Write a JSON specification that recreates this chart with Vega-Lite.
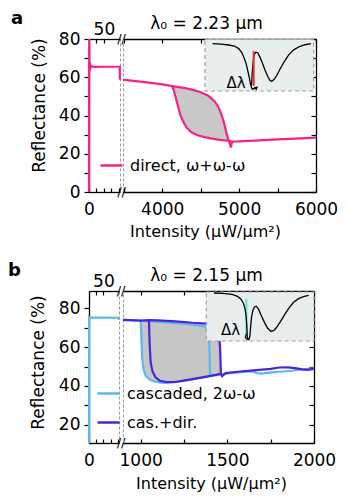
{
"$schema": "https://vega.github.io/schema/vega-lite/v6.json",
"padding": {"left": 7, "top": 9, "right": 0, "bottom": 0},
"spacing": 21,
"config": {
  "font": "DejaVu Sans",
  "view": {"stroke": "#9a9a9a", "strokeDash": [3, 2], "strokeWidth": 1},
  "axis": {"grid": false, "domainColor": "black", "domainWidth": 1.3, "tickColor": "black", "tickWidth": 1.2, "labelColor": "black", "titleColor": "black", "labelFontSize": 17, "titleFontSize": 17, "titleFontWeight": "normal", "labelFlush": false, "labelOverlap": false, "labelFont": "DejaVu Sans", "titleFont": "DejaVu Sans"},
  "legend": {"labelFontSize": 16, "labelFont": "DejaVu Sans", "labelColor": "black", "symbolType": "stroke", "symbolStrokeWidth": 2.5, "symbolSize": 484, "labelOffset": 6, "padding": 0, "rowPadding": 9},
  "title": {"font": "DejaVu Sans", "color": "black"}
},
"datasets": {
  "aLeft": [
    {"i":0,"x":0,"y":0},{"i":1,"x":0.6,"y":80},{"i":2,"x":1.5,"y":62.5},{"i":3,"x":3,"y":67.5},{"i":4,"x":5,"y":64.8},{"i":5,"x":8,"y":65.9},{"i":6,"x":15,"y":65.4},{"i":7,"x":60,"y":65.5},{"i":8,"x":103,"y":65.5},{"i":9,"x":103.6,"y":58.7}
  ],
  "aMain": [
    {"s":"direct, ω+ω-ω","b":"up","i":0,"x":3490,"y":58.7},{"s":"direct, ω+ω-ω","b":"up","i":1,"x":3600,"y":58.2},{"s":"direct, ω+ω-ω","b":"up","i":2,"x":3800,"y":57.3},{"s":"direct, ω+ω-ω","b":"up","i":3,"x":4000,"y":56.3},{"s":"direct, ω+ω-ω","b":"up","i":4,"x":4130,"y":55.4},{"s":"direct, ω+ω-ω","b":"up","i":5,"x":4300,"y":54.3},{"s":"direct, ω+ω-ω","b":"up","i":6,"x":4400,"y":53.4},{"s":"direct, ω+ω-ω","b":"up","i":7,"x":4500,"y":52.2},{"s":"direct, ω+ω-ω","b":"up","i":8,"x":4600,"y":50.3},{"s":"direct, ω+ω-ω","b":"up","i":9,"x":4680,"y":47.5},{"s":"direct, ω+ω-ω","b":"up","i":10,"x":4730,"y":44.5},{"s":"direct, ω+ω-ω","b":"up","i":11,"x":4770,"y":40.5},{"s":"direct, ω+ω-ω","b":"up","i":12,"x":4805,"y":36},{"s":"direct, ω+ω-ω","b":"up","i":13,"x":4835,"y":31},{"s":"direct, ω+ω-ω","b":"up","i":14,"x":4855,"y":28},{"s":"direct, ω+ω-ω","b":"up","i":15,"x":4870,"y":26.3},{"s":"direct, ω+ω-ω","b":"up","i":16,"x":4885,"y":24.5},{"s":"direct, ω+ω-ω","b":"up","i":17,"x":4893,"y":23.3},{"s":"direct, ω+ω-ω","b":"up","i":18,"x":4900,"y":24.8},{"s":"direct, ω+ω-ω","b":"up","i":19,"x":4910,"y":26.3},{"s":"direct, ω+ω-ω","b":"up","i":20,"x":4950,"y":26.4},{"s":"direct, ω+ω-ω","b":"up","i":21,"x":5000,"y":26.5},{"s":"direct, ω+ω-ω","b":"up","i":22,"x":5200,"y":26.9},{"s":"direct, ω+ω-ω","b":"up","i":23,"x":5500,"y":27.5},{"s":"direct, ω+ω-ω","b":"up","i":24,"x":5800,"y":28},{"s":"direct, ω+ω-ω","b":"up","i":25,"x":6000,"y":28.4},
    {"s":"direct, ω+ω-ω","b":"low","i":0,"x":4130,"y":55.4},{"s":"direct, ω+ω-ω","b":"low","i":1,"x":4150,"y":53.2},{"s":"direct, ω+ω-ω","b":"low","i":2,"x":4175,"y":49.5},{"s":"direct, ω+ω-ω","b":"low","i":3,"x":4205,"y":45},{"s":"direct, ω+ω-ω","b":"low","i":4,"x":4235,"y":40.5},{"s":"direct, ω+ω-ω","b":"low","i":5,"x":4270,"y":37},{"s":"direct, ω+ω-ω","b":"low","i":6,"x":4320,"y":33.5},{"s":"direct, ω+ω-ω","b":"low","i":7,"x":4380,"y":31.2},{"s":"direct, ω+ω-ω","b":"low","i":8,"x":4450,"y":29.8},{"s":"direct, ω+ω-ω","b":"low","i":9,"x":4550,"y":28.7},{"s":"direct, ω+ω-ω","b":"low","i":10,"x":4650,"y":27.9},{"s":"direct, ω+ω-ω","b":"low","i":11,"x":4750,"y":27.3},{"s":"direct, ω+ω-ω","b":"low","i":12,"x":4850,"y":26.8},{"s":"direct, ω+ω-ω","b":"low","i":13,"x":4900,"y":26.6}
  ],
  "aFill": [
    {"x":4130,"up":55.4,"low":55.4},{"x":4150,"up":55.2,"low":53.2},{"x":4175,"up":55.0,"low":49.5},{"x":4205,"up":54.8,"low":45},{"x":4235,"up":54.6,"low":40.5},{"x":4270,"up":54.4,"low":37},{"x":4320,"up":54.1,"low":33.5},{"x":4380,"up":53.6,"low":31.2},{"x":4450,"up":52.9,"low":29.8},{"x":4550,"up":51.4,"low":28.7},{"x":4600,"up":50.3,"low":28.4},{"x":4650,"up":48.8,"low":28.0},{"x":4680,"up":47.5,"low":27.8},{"x":4730,"up":44.5,"low":27.5},{"x":4770,"up":40.5,"low":27.2},{"x":4805,"up":36,"low":27.0},{"x":4835,"up":31,"low":26.9},{"x":4855,"up":28,"low":26.8},{"x":4865,"up":26.8,"low":26.8}
  ],
  "insetA": [
    {"u":0.07,"v":0.916},{"u":0.15,"v":0.905},{"u":0.22,"v":0.89},{"u":0.27,"v":0.87},{"u":0.31,"v":0.82},{"u":0.34,"v":0.74},{"u":0.36,"v":0.64},{"u":0.38,"v":0.52},{"u":0.395,"v":0.38},{"u":0.41,"v":0.24},{"u":0.418,"v":0.14},{"u":0.424,"v":0.1},{"u":0.43,"v":0.15},{"u":0.435,"v":0.35},{"u":0.442,"v":0.55},{"u":0.452,"v":0.7},{"u":0.468,"v":0.75},{"u":0.485,"v":0.74},{"u":0.505,"v":0.66},{"u":0.53,"v":0.53},{"u":0.555,"v":0.39},{"u":0.58,"v":0.27},{"u":0.6,"v":0.2},{"u":0.615,"v":0.19},{"u":0.635,"v":0.22},{"u":0.66,"v":0.3},{"u":0.69,"v":0.42},{"u":0.73,"v":0.57},{"u":0.77,"v":0.7},{"u":0.82,"v":0.8},{"u":0.87,"v":0.86},{"u":0.92,"v":0.895},{"u":0.975,"v":0.916}
  ],
  "bLeft": [
    {"i":0,"x":0,"y":10.5},{"i":1,"x":0.6,"y":75.6},{"i":2,"x":3,"y":75.3},{"i":3,"x":50,"y":75.3},{"i":4,"x":103,"y":75.2},{"i":5,"x":103.6,"y":74.1}
  ],
  "bMain": [
    {"s":"cascaded, 2ω-ω","b":"cu","i":0,"x":898,"y":74.1},{"s":"cascaded, 2ω-ω","b":"cu","i":1,"x":1000,"y":73.7},{"s":"cascaded, 2ω-ω","b":"cu","i":2,"x":1100,"y":73.0},{"s":"cascaded, 2ω-ω","b":"cu","i":3,"x":1200,"y":72.4},{"s":"cascaded, 2ω-ω","b":"cu","i":4,"x":1300,"y":71.6},{"s":"cascaded, 2ω-ω","b":"cu","i":5,"x":1360,"y":70.9},{"s":"cascaded, 2ω-ω","b":"cu","i":6,"x":1380,"y":70.2},{"s":"cascaded, 2ω-ω","b":"cu","i":7,"x":1390,"y":68.8},{"s":"cascaded, 2ω-ω","b":"cu","i":8,"x":1395,"y":64},{"s":"cascaded, 2ω-ω","b":"cu","i":9,"x":1398,"y":55},{"s":"cascaded, 2ω-ω","b":"cu","i":10,"x":1400,"y":46},
    {"s":"cascaded, 2ω-ω","b":"cl","i":0,"x":1000,"y":73.7},{"s":"cascaded, 2ω-ω","b":"cl","i":1,"x":1002,"y":70},{"s":"cascaded, 2ω-ω","b":"cl","i":2,"x":1005,"y":62},{"s":"cascaded, 2ω-ω","b":"cl","i":3,"x":1009,"y":54},{"s":"cascaded, 2ω-ω","b":"cl","i":4,"x":1016,"y":48.5},{"s":"cascaded, 2ω-ω","b":"cl","i":5,"x":1030,"y":45},{"s":"cascaded, 2ω-ω","b":"cl","i":6,"x":1055,"y":43},{"s":"cascaded, 2ω-ω","b":"cl","i":7,"x":1090,"y":42},{"s":"cascaded, 2ω-ω","b":"cl","i":8,"x":1130,"y":41.6},{"s":"cascaded, 2ω-ω","b":"cl","i":9,"x":1180,"y":41.8},{"s":"cascaded, 2ω-ω","b":"cl","i":10,"x":1250,"y":42.6},{"s":"cascaded, 2ω-ω","b":"cl","i":11,"x":1330,"y":43.8},{"s":"cascaded, 2ω-ω","b":"cl","i":12,"x":1400,"y":45},{"s":"cascaded, 2ω-ω","b":"cl","i":13,"x":1480,"y":46.2},{"s":"cascaded, 2ω-ω","b":"cl","i":14,"x":1560,"y":47},{"s":"cascaded, 2ω-ω","b":"cl","i":15,"x":1620,"y":47.5},{"s":"cascaded, 2ω-ω","b":"cl","i":16,"x":1650,"y":47.4},{"s":"cascaded, 2ω-ω","b":"cl","i":17,"x":1670,"y":46.6},{"s":"cascaded, 2ω-ω","b":"cl","i":18,"x":1700,"y":46.3},{"s":"cascaded, 2ω-ω","b":"cl","i":19,"x":1740,"y":46.8},{"s":"cascaded, 2ω-ω","b":"cl","i":20,"x":1800,"y":47.3},{"s":"cascaded, 2ω-ω","b":"cl","i":21,"x":1870,"y":47.8},{"s":"cascaded, 2ω-ω","b":"cl","i":22,"x":1930,"y":48.5},{"s":"cascaded, 2ω-ω","b":"cl","i":23,"x":2000,"y":49.1},
    {"s":"cas.+dir.","b":"pu","i":0,"x":898,"y":74.1},{"s":"cas.+dir.","b":"pu","i":1,"x":1000,"y":73.7},{"s":"cas.+dir.","b":"pu","i":2,"x":1050,"y":74.0},{"s":"cas.+dir.","b":"pu","i":3,"x":1100,"y":73.8},{"s":"cas.+dir.","b":"pu","i":4,"x":1200,"y":73.3},{"s":"cas.+dir.","b":"pu","i":5,"x":1300,"y":72.6},{"s":"cas.+dir.","b":"pu","i":6,"x":1380,"y":72.2},{"s":"cas.+dir.","b":"pu","i":7,"x":1420,"y":71.0},{"s":"cas.+dir.","b":"pu","i":8,"x":1440,"y":69.6},{"s":"cas.+dir.","b":"pu","i":9,"x":1452,"y":66.5},{"s":"cas.+dir.","b":"pu","i":10,"x":1458,"y":60},{"s":"cas.+dir.","b":"pu","i":11,"x":1461,"y":52},{"s":"cas.+dir.","b":"pu","i":12,"x":1463,"y":46.3},
    {"s":"cas.+dir.","b":"pl","i":0,"x":1048,"y":74.0},{"s":"cas.+dir.","b":"pl","i":1,"x":1050,"y":66},{"s":"cas.+dir.","b":"pl","i":2,"x":1053,"y":59},{"s":"cas.+dir.","b":"pl","i":3,"x":1058,"y":52},{"s":"cas.+dir.","b":"pl","i":4,"x":1068,"y":47.5},{"s":"cas.+dir.","b":"pl","i":5,"x":1085,"y":44.5},{"s":"cas.+dir.","b":"pl","i":6,"x":1110,"y":42.6},{"s":"cas.+dir.","b":"pl","i":7,"x":1150,"y":41.9},{"s":"cas.+dir.","b":"pl","i":8,"x":1200,"y":42},{"s":"cas.+dir.","b":"pl","i":9,"x":1280,"y":43.2},{"s":"cas.+dir.","b":"pl","i":10,"x":1380,"y":44.8},{"s":"cas.+dir.","b":"pl","i":11,"x":1440,"y":45.8},{"s":"cas.+dir.","b":"pl","i":12,"x":1463,"y":46.3},{"s":"cas.+dir.","b":"pl","i":13,"x":1470,"y":45},{"s":"cas.+dir.","b":"pl","i":14,"x":1478,"y":45.6},{"s":"cas.+dir.","b":"pl","i":15,"x":1490,"y":46.6},{"s":"cas.+dir.","b":"pl","i":16,"x":1560,"y":47.3},{"s":"cas.+dir.","b":"pl","i":17,"x":1650,"y":48},{"s":"cas.+dir.","b":"pl","i":18,"x":1750,"y":48.8},{"s":"cas.+dir.","b":"pl","i":19,"x":1800,"y":49.5},{"s":"cas.+dir.","b":"pl","i":20,"x":1850,"y":49.6},{"s":"cas.+dir.","b":"pl","i":21,"x":1900,"y":49},{"s":"cas.+dir.","b":"pl","i":22,"x":1930,"y":48.5},{"s":"cas.+dir.","b":"pl","i":23,"x":1960,"y":48.3},{"s":"cas.+dir.","b":"pl","i":24,"x":2000,"y":48.8}
  ],
  "bFill": [
    {"x":1000,"up":73.7,"low":73.7},{"x":1002,"up":73.7,"low":70},{"x":1005,"up":73.7,"low":62},{"x":1009,"up":73.7,"low":54},{"x":1016,"up":73.7,"low":48.5},{"x":1030,"up":73.8,"low":45},{"x":1055,"up":73.9,"low":43},{"x":1090,"up":73.8,"low":42},{"x":1130,"up":73.7,"low":41.6},{"x":1180,"up":73.4,"low":41.8},{"x":1250,"up":73.0,"low":42.6},{"x":1330,"up":72.5,"low":43.8},{"x":1380,"up":72.2,"low":44.5},{"x":1420,"up":71.0,"low":45.2},{"x":1440,"up":69.6,"low":45.5},{"x":1452,"up":66.5,"low":45.8},{"x":1458,"up":60,"low":46},{"x":1461,"up":52,"low":46.2},{"x":1463,"up":46.3,"low":46.3}
  ],
  "insetB": [
    {"u":0.071,"v":0.98},{"u":0.15,"v":0.97},{"u":0.24,"v":0.95},{"u":0.29,"v":0.91},{"u":0.32,"v":0.86},{"u":0.345,"v":0.77},{"u":0.36,"v":0.65},{"u":0.37,"v":0.5},{"u":0.375,"v":0.35},{"u":0.378,"v":0.2},{"u":0.38,"v":0.1},{"u":0.385,"v":0.04},{"u":0.395,"v":0.03},{"u":0.405,"v":0.1},{"u":0.412,"v":0.3},{"u":0.42,"v":0.49},{"u":0.432,"v":0.62},{"u":0.445,"v":0.69},{"u":0.464,"v":0.71},{"u":0.485,"v":0.65},{"u":0.51,"v":0.52},{"u":0.54,"v":0.38},{"u":0.57,"v":0.26},{"u":0.6,"v":0.2},{"u":0.625,"v":0.21},{"u":0.65,"v":0.27},{"u":0.69,"v":0.4},{"u":0.73,"v":0.55},{"u":0.77,"v":0.68},{"u":0.81,"v":0.79},{"u":0.86,"v":0.87},{"u":0.91,"v":0.91},{"u":0.95,"v":0.93}
  ]
},
"resolve": {"scale": {"color": "independent"}, "legend": {"color": "independent"}},
"vconcat": [
  {
    "bounds": "flush",
    "spacing": 3,
    "resolve": {"scale": {"color": "independent"}},
    "hconcat": [
      {
        "width": 31, "height": 153,
        "title": {"text": "a", "anchor": "start", "dx": -19, "fontSize": 18, "fontWeight": "bold", "offset": -8},
        "layer": [
          {"data": {"name": "aLeft"}, "mark": {"type": "line", "strokeWidth": 2.2, "color": "#f7218b"},
           "encoding": {
             "x": {"field": "x", "type": "quantitative", "scale": {"domain": [0, 104], "nice": false, "zero": false}, "axis": {"orient": "bottom", "values": [0, 25, 50, 75, 100], "labelExpr": "datum.value == 0 ? '0' : ''", "tickSize": -4, "labelPadding": 13, "title": null}},
             "y": {"field": "y", "type": "quantitative", "scale": {"domain": [0, 80], "nice": false}, "axis": {"orient": "left", "values": [0, 10, 20, 30, 40, 50, 60, 70, 80], "labelExpr": "datum.value % 20 == 0 ? datum.label : ''", "tickSize": 5, "labelPadding": 4, "title": "Reflectance (%)", "titleX": -50, "titleY": 66, "titleAlign": "center", "titleBaseline": "middle"}},
             "order": {"field": "i", "type": "quantitative"}
           }},
          {"data": {"values": [{}]}, "mark": {"type": "text", "text": "//", "fontSize": 13, "dx": 1.5, "color": "black"},
           "encoding": {
             "x": {"datum": 104, "type": "quantitative", "axis": {"orient": "top", "values": [25, 50], "labelExpr": "datum.value == 50 ? '50' : ''", "tickSize": -4, "labelPadding": 5, "title": null}},
             "y": {"datum": 0, "type": "quantitative", "axis": null}
           }},
          {"data": {"values": [{}]}, "mark": {"type": "text", "text": "//", "fontSize": 13, "dx": 1.5, "color": "black"},
           "encoding": {
             "x": {"datum": 104, "type": "quantitative", "axis": null},
             "y": {"datum": 80, "type": "quantitative", "axis": null}
           }}
        ],
        "resolve": {"axis": {"x": "independent", "y": "independent"}}
      },
      {
        "width": 193, "height": 153,
        "title": {"text": "λ₀ = 2.23 μm", "anchor": "middle", "dx": -13, "fontSize": 17, "fontWeight": "normal", "offset": 5},
        "layer": [
          {"layer": [
            {"data": {"name": "aFill"}, "mark": {"type": "area", "color": "#c8c8c8", "opacity": 1},
             "encoding": {
               "x": {"field": "x", "type": "quantitative", "scale": {"domain": [3490, 6000], "nice": false, "zero": false}, "axis": {"orient": "top", "values": [3500, 4000, 4500, 5000, 5500, 6000], "labels": false, "tickSize": -4, "title": null}},
               "y": {"field": "up", "type": "quantitative", "scale": {"domain": [0, 80], "nice": false}, "axis": null},
               "y2": {"field": "low"}
             }},
            {"data": {"name": "aMain"}, "mark": {"type": "line", "strokeWidth": 2.2},
             "encoding": {
               "x": {"field": "x", "type": "quantitative", "axis": {"orient": "bottom", "values": [3500, 4000, 4500, 5000, 5500, 6000], "labelExpr": "datum.value % 1000 == 0 ? datum.value : ''", "tickSize": -4, "labelPadding": 13, "title": "Intensity (μW/μm²)", "titleFontSize": 16, "titleX": 82, "titleY": 39, "titleAlign": "center", "titleBaseline": "middle"}},
               "y": {"field": "y", "type": "quantitative", "axis": {"orient": "right", "values": [0, 10, 20, 30, 40, 50, 60, 70, 80], "labels": false, "tickSize": -5, "title": null}},
               "color": {"field": "s", "type": "nominal", "scale": {"domain": ["direct, ω+ω-ω"], "range": ["#f7218b"]}, "legend": {"orient": "none", "legendX": -24, "legendY": 114, "title": null}},
               "detail": {"field": "b"},
               "order": {"field": "i", "type": "quantitative"}
             }}
          ], "resolve": {"axis": {"x": "independent", "y": "independent"}}},
          {"layer": [
            {"data": {"values": [{"u0": 0, "u1": 1, "v0": 0, "v1": 1}]}, "mark": {"type": "rect", "fill": "#e8eeee", "stroke": "#a0a0a0", "strokeDash": [4, 3], "strokeWidth": 1.2},
             "encoding": {
               "x": {"field": "u0", "type": "quantitative", "scale": {"domain": [-0.754, 1.0215], "nice": false, "zero": false}, "axis": null},
               "x2": {"field": "u1"},
               "y": {"field": "v0", "type": "quantitative", "scale": {"domain": [-1.954, 1.006], "nice": false, "zero": false}, "axis": null},
               "y2": {"field": "v1"}
             }},
            {"data": {"name": "insetA"}, "mark": {"type": "line", "color": "black", "strokeWidth": 1.3},
             "encoding": {"x": {"field": "u", "type": "quantitative", "axis": null}, "y": {"field": "v", "type": "quantitative", "axis": null}}},
            {"data": {"values": [{"u": 0.448, "v0": 0.097, "v1": 0.774}]}, "mark": {"type": "rule", "color": "#e8322a", "strokeWidth": 2},
             "encoding": {"x": {"field": "u", "type": "quantitative", "axis": null}, "y": {"field": "v0", "type": "quantitative", "axis": null}, "y2": {"field": "v1"}}},
            {"data": {"values": [{"u": 0.425, "v": 0.09, "k": 0}, {"u": 0.435, "v": 0.035, "k": 1}, {"u": 0.47, "v": 0.06, "k": 2}]}, "mark": {"type": "line", "color": "black", "strokeWidth": 1.2},
             "encoding": {"x": {"field": "u", "type": "quantitative", "axis": null}, "y": {"field": "v", "type": "quantitative", "axis": null}, "order": {"field": "k", "type": "quantitative"}}},
            {"data": {"values": [{"u": 0.475, "v": 0.065}]}, "mark": {"type": "point", "shape": "triangle-right", "filled": true, "color": "black", "size": 18, "angle": -35, "opacity": 1},
             "encoding": {"x": {"field": "u", "type": "quantitative", "axis": null}, "y": {"field": "v", "type": "quantitative", "axis": null}}},
            {"data": {"values": [{"u": 0.285, "v": 0.16, "t": "Δλ"}]}, "mark": {"type": "text", "fontSize": 15, "color": "black"},
             "encoding": {"x": {"field": "u", "type": "quantitative", "axis": null}, "y": {"field": "v", "type": "quantitative", "axis": null}, "text": {"field": "t"}}}
          ]}
        ],
        "resolve": {"scale": {"x": "independent", "y": "independent"}}
      }
    ]
  },
  {
    "bounds": "flush",
    "spacing": 4,
    "resolve": {"scale": {"color": "independent"}},
    "hconcat": [
      {
        "width": 30, "height": 152,
        "title": {"text": "b", "anchor": "start", "dx": -21, "fontSize": 18, "fontWeight": "bold", "offset": -8},
        "layer": [
          {"data": {"name": "bLeft"}, "mark": {"type": "line", "strokeWidth": 2.2, "color": "#5bb8ee"},
           "encoding": {
             "x": {"field": "x", "type": "quantitative", "scale": {"domain": [0, 104], "nice": false, "zero": false}, "axis": {"orient": "bottom", "values": [0, 25, 50, 75, 100], "labelExpr": "datum.value == 0 ? '0' : ''", "tickSize": -4, "labelPadding": 13, "title": null}},
             "y": {"field": "y", "type": "quantitative", "scale": {"domain": [10.5, 89], "nice": false, "zero": false}, "axis": {"orient": "left", "values": [20, 30, 40, 50, 60, 70, 80], "labelExpr": "datum.value % 20 == 0 ? datum.label : ''", "tickSize": 5, "labelPadding": 4, "title": "Reflectance (%)", "titleX": -51, "titleY": 71, "titleAlign": "center", "titleBaseline": "middle"}},
             "order": {"field": "i", "type": "quantitative"}
           }},
          {"data": {"values": [{}]}, "mark": {"type": "text", "text": "//", "fontSize": 13, "dx": 2, "color": "black"},
           "encoding": {
             "x": {"datum": 104, "type": "quantitative", "axis": {"orient": "top", "values": [25, 50], "labelExpr": "datum.value == 50 ? '50' : ''", "tickSize": -4, "labelPadding": 5, "title": null}},
             "y": {"datum": 10.5, "type": "quantitative", "axis": null}
           }},
          {"data": {"values": [{}]}, "mark": {"type": "text", "text": "//", "fontSize": 13, "dx": 2, "color": "black"},
           "encoding": {
             "x": {"datum": 104, "type": "quantitative", "axis": null},
             "y": {"datum": 89, "type": "quantitative", "axis": null}
           }}
        ],
        "resolve": {"axis": {"x": "independent", "y": "independent"}}
      },
      {
        "width": 191, "height": 152,
        "title": {"text": "λ₀ = 2.15 μm", "anchor": "middle", "dx": -12, "fontSize": 17, "fontWeight": "normal", "offset": 5},
        "layer": [
          {"layer": [
            {"data": {"name": "bFill"}, "mark": {"type": "area", "color": "#c6c6c6", "opacity": 1},
             "encoding": {
               "x": {"field": "x", "type": "quantitative", "scale": {"domain": [898, 2000], "nice": false, "zero": false}, "axis": {"orient": "top", "values": [1000, 1250, 1500, 1750, 2000], "labels": false, "tickSize": -4, "title": null}},
               "y": {"field": "up", "type": "quantitative", "scale": {"domain": [10.5, 89], "nice": false, "zero": false}, "axis": null},
               "y2": {"field": "low"}
             }},
            {"data": {"name": "bMain"}, "mark": {"type": "line", "strokeWidth": 2.2},
             "encoding": {
               "x": {"field": "x", "type": "quantitative", "axis": {"orient": "bottom", "values": [1000, 1250, 1500, 1750, 2000], "labelExpr": "datum.value % 500 == 0 ? datum.value : ''", "tickSize": -4, "labelPadding": 13, "title": "Intensity (μW/μm²)", "titleFontSize": 16, "titleX": 88, "titleY": 40, "titleAlign": "center", "titleBaseline": "middle"}},
               "y": {"field": "y", "type": "quantitative", "axis": {"orient": "right", "values": [20, 30, 40, 50, 60, 70, 80], "labels": false, "tickSize": -5, "title": null}},
               "color": {"field": "s", "type": "nominal", "sort": ["cas.+dir.", "cascaded, 2ω-ω"], "scale": {"domain": ["cascaded, 2ω-ω", "cas.+dir."], "range": ["#5bb8ee", "#4b22e0"]}, "legend": {"orient": "none", "legendX": -27, "legendY": 90, "title": null, "rowPadding": 8}},
               "detail": {"field": "b"},
               "order": {"field": "i", "type": "quantitative"}
             }}
          ], "resolve": {"axis": {"x": "independent", "y": "independent"}}},
          {"layer": [
            {"data": {"values": [{"u0": 0, "u1": 1, "v0": 0, "v1": 1}]}, "mark": {"type": "rect", "fill": "#e8eeee", "stroke": "#a0a0a0", "strokeDash": [4, 3], "strokeWidth": 1.2},
             "encoding": {
               "x": {"field": "u0", "type": "quantitative", "scale": {"domain": [-0.7735, 1.0], "nice": false, "zero": false}, "axis": null},
               "x2": {"field": "u1"},
               "y": {"field": "v0", "type": "quantitative", "scale": {"domain": [-2.082, 1.0204], "nice": false, "zero": false}, "axis": null},
               "y2": {"field": "v1"}
             }},
            {"data": {"values": [{"u": 0.372, "v0": 0.15, "v1": 0.86}]}, "mark": {"type": "rule", "color": "#5fe3d3", "strokeWidth": 2},
             "encoding": {"x": {"field": "u", "type": "quantitative", "axis": null}, "y": {"field": "v0", "type": "quantitative", "axis": null}, "y2": {"field": "v1"}}},
            {"data": {"name": "insetB"}, "mark": {"type": "line", "color": "black", "strokeWidth": 1.3},
             "encoding": {"x": {"field": "u", "type": "quantitative", "axis": null}, "y": {"field": "v", "type": "quantitative", "axis": null}}},
            {"data": {"values": [{"u": 0.372, "v": 0.15, "k": 0}, {"u": 0.362, "v": 0.07, "k": 1}, {"u": 0.385, "v": 0.025, "k": 2}]}, "mark": {"type": "line", "color": "black", "strokeWidth": 1.2},
             "encoding": {"x": {"field": "u", "type": "quantitative", "axis": null}, "y": {"field": "v", "type": "quantitative", "axis": null}, "order": {"field": "k", "type": "quantitative"}}},
            {"data": {"values": [{"u": 0.226, "v": 0.23, "t": "Δλ"}]}, "mark": {"type": "text", "fontSize": 15, "color": "black"},
             "encoding": {"x": {"field": "u", "type": "quantitative", "axis": null}, "y": {"field": "v", "type": "quantitative", "axis": null}, "text": {"field": "t"}}}
          ]}
        ],
        "resolve": {"scale": {"x": "independent", "y": "independent"}}
      }
    ]
  }
]
}
